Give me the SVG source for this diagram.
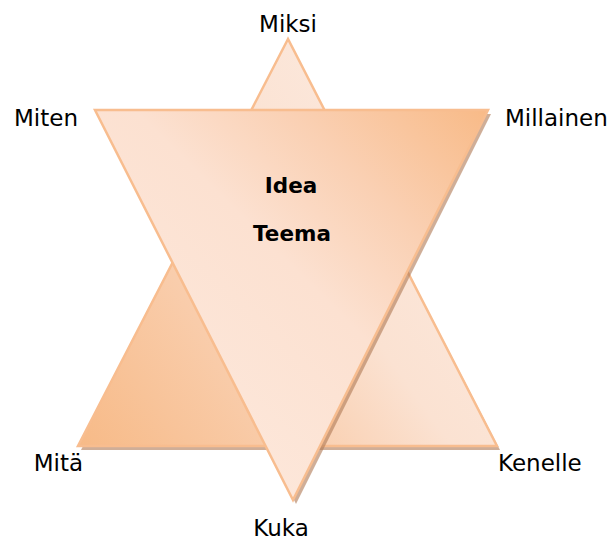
<svg xmlns="http://www.w3.org/2000/svg" width="614" height="544" viewBox="0 0 614 544">
<defs>
<linearGradient id="gUp" x1="0" y1="1" x2="1" y2="0.3">
<stop offset="0" stop-color="#F7BA87"/>
<stop offset="0.35" stop-color="#F9CDAC"/>
<stop offset="0.6" stop-color="#FBE2D2"/>
<stop offset="1" stop-color="#FCEAE0"/>
</linearGradient>
<linearGradient id="gDown" x1="1" y1="0" x2="0" y2="1">
<stop offset="0" stop-color="#F8BA87"/>
<stop offset="0.25" stop-color="#FAD0B3"/>
<stop offset="0.45" stop-color="#FCE1D1"/>
<stop offset="1" stop-color="#FDEBE0"/>
</linearGradient>
<filter id="blur" x="-5%" y="-5%" width="110%" height="110%"><feGaussianBlur stdDeviation="0.4"/></filter>
</defs>
<style>
.lbl{font-family:"DejaVu Sans",Verdana,sans-serif;font-size:23px;fill:#000}
.ctr{font-family:"DejaVu Sans",Verdana,sans-serif;font-size:21.5px;font-weight:bold;fill:#000;text-anchor:middle}
.tri{stroke:#F8BD8F;stroke-width:2.5;stroke-linejoin:miter}
.sh{fill:#B07A55;opacity:0.6;filter:url(#blur)}
</style>
<g id="triangle-up">
<polygon class="sh" points="290,43 81,450 500,450"/>
<polygon class="tri" fill="url(#gUp)" points="288,39 78,446 497,446"/>
</g>
<g id="triangle-down">
<polygon class="sh" points="98,114 491,114 296,504"/>
<polygon class="tri" fill="url(#gDown)" points="95,110 488,110 293,500"/>
</g>
<g id="center-text">
<text class="ctr" x="291" y="193">Idea</text>
<text class="ctr" x="292" y="241">Teema</text>
</g>
<g id="labels">
<text class="lbl" x="288" y="32" text-anchor="middle">Miksi</text>
<text class="lbl" x="78" y="126" text-anchor="end">Miten</text>
<text class="lbl" x="505" y="126">Millainen</text>
<text class="lbl" x="83" y="471" text-anchor="end">Mitä</text>
<text class="lbl" x="498" y="471">Kenelle</text>
<text class="lbl" x="281" y="536" text-anchor="middle">Kuka</text>
</g>
<g id="connectors"/>
</svg>
